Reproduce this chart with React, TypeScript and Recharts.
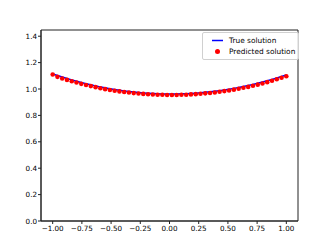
import { ComposedChart, Line, Scatter, XAxis, YAxis, Legend, ReferenceArea } from 'recharts';

// sample points on [-1, 1]
const xs = [
  -1.0, -0.9592, -0.9184, -0.8776, -0.8367, -0.7959, -0.7551, -0.7143, -0.6735, -0.6327,
  -0.5918, -0.551, -0.5102, -0.4694, -0.4286, -0.3878, -0.3469, -0.3061, -0.2653, -0.2245,
  -0.1837, -0.1429, -0.102, -0.0612, -0.0204, 0.0204, 0.0612, 0.102, 0.1429, 0.1837,
  0.2245, 0.2653, 0.3061, 0.3469, 0.3878, 0.4286, 0.4694, 0.5102, 0.551, 0.5918,
  0.6327, 0.6735, 0.7143, 0.7551, 0.7959, 0.8367, 0.8776, 0.9184, 0.9592, 1.0,
];

const trueSolution = [
  1.114, 1.102, 1.0905, 1.0795, 1.069, 1.0589, 1.0494, 1.0404, 1.0318, 1.0238,
  1.0162, 1.0091, 1.0026, 0.9965, 0.9909, 0.9858, 0.9812, 0.9771, 0.9735, 0.9704,
  0.9677, 0.9656, 0.9639, 0.9628, 0.9621, 0.962, 0.9623, 0.9631, 0.9644, 0.9663,
  0.9686, 0.9713, 0.9747, 0.9784, 0.9827, 0.9875, 0.9927, 0.9985, 1.0047, 1.0114,
  1.0187, 1.0264, 1.0346, 1.0434, 1.0526, 1.0623, 1.0725, 1.0831, 1.0944, 1.106,
];

const predictedSolution = [
  1.11, 1.092, 1.08, 1.069, 1.059, 1.049, 1.039, 1.03, 1.022, 1.014,
  1.006, 0.999, 0.993, 0.987, 0.982, 0.977, 0.973, 0.969, 0.966, 0.963,
  0.96, 0.958, 0.957, 0.956, 0.955, 0.955, 0.955, 0.956, 0.957, 0.959,
  0.961, 0.964, 0.967, 0.97, 0.974, 0.979, 0.984, 0.989, 0.995, 1.002,
  1.009, 1.016, 1.025, 1.033, 1.042, 1.052, 1.063, 1.074, 1.085, 1.097,
];

const xTicks = [-1, -0.75, -0.5, -0.25, 0, 0.25, 0.5, 0.75, 1];
const yTicks = [0, 0.2, 0.4, 0.6, 0.8, 1.0, 1.2, 1.4];

const X_DOMAIN: [number, number] = [-1.1, 1.1];
const Y_DOMAIN: [number, number] = [0, 1.447];

const FONT = '"DejaVu Sans", sans-serif';
const AXIS = '#222';

const data = xs.map((x, i) => ({ x, true: trueSolution[i], pred: predictedSolution[i] }));

const minus = (s: string) => s.replace('-', '\u2212');

const renderLegend = () => (
  <div
    style={{
      border: '1px solid #d0d0d0',
      borderRadius: 2,
      background: 'rgba(255,255,255,0.8)',
      padding: '2px 3px 2px 9px',
      fontFamily: FONT,
      fontSize: 7.4,
      color: '#000',
      lineHeight: '11px',
      textAlign: 'left',
    }}
  >
    <div style={{ display: 'flex', alignItems: 'center' }}>
      <svg width={12} height={11} style={{ marginRight: 5 }}>
        <line x1={0} x2={11} y1={5.5} y2={5.5} stroke="blue" strokeWidth={1.5} />
      </svg>
      True solution
    </div>
    <div style={{ display: 'flex', alignItems: 'center' }}>
      <svg width={12} height={11} style={{ marginRight: 5 }}>
        <circle cx={5.5} cy={5.5} r={2.5} fill="red" />
      </svg>
      Predicted solution
    </div>
  </div>
);

const Dot = (props: any) => <circle cx={props.cx} cy={props.cy} r={2.3} fill="red" />;

export default function App() {
  return (
    <div style={{ position: 'absolute', left: 0, top: 0, background: '#fff' }}>
      <ComposedChart
        width={332}
        height={249}
        data={data}
        margin={{ top: 30, right: 34, bottom: 0, left: 0 }}
      >
        <XAxis
          dataKey="x"
          type="number"
          domain={X_DOMAIN}
          ticks={xTicks}
          height={28}
          tickSize={3}
          tickMargin={2}
          tickFormatter={(v: number) => minus(v.toFixed(2))}
          tick={{ fontSize: 7.2, fill: '#000', fontFamily: FONT }}
          stroke={AXIS}
          interval={0}
          allowDataOverflow
        />
        <YAxis
          type="number"
          domain={Y_DOMAIN}
          ticks={yTicks}
          width={41}
          tickSize={3}
          tickMargin={1}
          tickFormatter={(v: number) => v.toFixed(1)}
          tick={{ fontSize: 7.2, fill: '#000', fontFamily: FONT }}
          stroke={AXIS}
          interval={0}
          allowDataOverflow
        />
        <ReferenceArea
          x1={X_DOMAIN[0]}
          x2={X_DOMAIN[1]}
          y1={Y_DOMAIN[0]}
          y2={Y_DOMAIN[1]}
          fill="none"
          stroke={AXIS}
          strokeWidth={1}
          ifOverflow="visible"
        />
        <Legend
          content={renderLegend}
          layout="vertical"
          verticalAlign="middle"
          align="center"
          wrapperStyle={{ top: 32, left: 202, width: 'auto' }}
        />
        <Line
          dataKey="true"
          name="True solution"
          stroke="blue"
          strokeWidth={1.5}
          dot={false}
          isAnimationActive={false}
        />
        <Scatter
          dataKey="pred"
          name="Predicted solution"
          fill="red"
          shape={Dot}
          isAnimationActive={false}
        />
      </ComposedChart>
    </div>
  );
}
